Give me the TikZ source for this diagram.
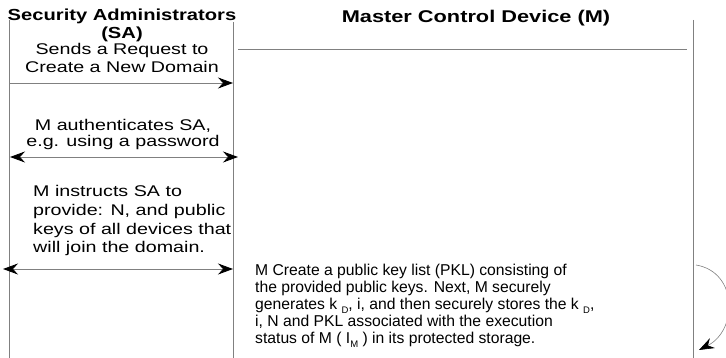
\documentclass[tikz,border=0pt]{standalone}
\usepackage{fontspec}
\setmainfont{Liberation Sans}
\newfontfamily\widefont[FakeStretch=1.27]{Liberation Sans}
\newfontfamily\widebold[FakeStretch=1.26]{Liberation Sans Bold}
\newfontfamily\widerbold[FakeStretch=1.28]{Liberation Sans Bold}
\usetikzlibrary{arrows.meta}
\newcommand{\lowsub}[1]{\raisebox{-0.55ex}{\fontsize{9.5}{9.5}\selectfont #1}}
\begin{document}
\begin{tikzpicture}[x=1pt,y=-1pt,
  lifeline/.style={draw=black!50, line width=0.9pt},
  msg/.style={draw=black!50, line width=0.8pt},
  tip/.tip={Stealth[length=15pt,width=11pt,inset=5pt,black]},
  header/.style={inner sep=0pt, anchor=base},
  satext/.style={inner sep=0pt, anchor=base, align=center,
    font=\widefont\fontsize{15.5}{18}\selectfont},
  mtext/.style={inner sep=0pt, anchor=base west, align=left,
    font=\fontsize{15.7}{17}\selectfont}]
  \useasboundingbox (0,0) rectangle (726,358);

  % column headers
  \node[header, font=\widebold\fontsize{16}{16}\selectfont] (sahead) at (122,21) {Security Administrators};
  \node[header, font=\widebold\fontsize{16}{16}\selectfont] (saabbr) at (122,39) {(SA)};
  \node[header, font=\widerbold\fontsize{17}{17}\selectfont] (mhead) at (476,23) {Master Control Device (M)};

  % lifelines
  \coordinate (saL) at (9.5,20);   \coordinate (saLb) at (9.5,358);
  \coordinate (saR) at (233,22);   \coordinate (saRb) at (233,358);
  \coordinate (mR)  at (693,20);   \coordinate (mRb)  at (693,358);
  \coordinate (mTa) at (238,49);   \coordinate (mTb)  at (687,49);
  \draw[lifeline] (saL) -- (saLb);
  \draw[lifeline] (saR) -- (saRb);
  \draw[lifeline] (mR) -- (mRb);
  \draw[lifeline] (mTa) -- (mTb);

  % message 1 (the base anchor sits on the last line)
  \node[satext] (req) at (122,73) {Sends a Request to\\Create a New Domain};
  \coordinate (r1a) at (9.5,83); \coordinate (r1b) at (233,83);
  \draw[msg, -tip] (r1a) -- (r1b);

  % message 2
  \node[satext, font=\widefont\fontsize{15.5}{16.5}\selectfont] (auth) at (123,147) {M authenticates SA,\\e.g. using a password};
  \coordinate (r2a) at (10,157); \coordinate (r2b) at (238,157);
  \draw[msg, tip-tip] (r2a) -- (r2b);

  % message 3
  \node[satext, anchor=base west, align=left, font=\widefont\fontsize{15.5}{18.7}\selectfont] (instr) at (33,253) {M instructs SA to\\provide: N, and public\\keys of all devices that\\will join the domain.};
  \coordinate (r3a) at (3,269); \coordinate (r3b) at (233,269);
  \draw[msg, tip-tip] (r3a) -- (r3b);

  % internal processing of M
  \node[mtext] (proc) at (255,343) {M Create a public key list (PKL) consisting of\\
    the provided public keys. Next, M securely\\
    generates k \lowsub{D}, i, and then securely stores the k \lowsub{D},\\
    i, N and PKL associated with the execution\\
    status of M ( I\lowsub{M} ) in its protected storage.};

  % self call on M
  \coordinate (s1) at (696,265); \coordinate (s2) at (699,350);
  \draw[msg, line width=0.6pt, -tip] (s1) .. controls (738,272) and (738,330) .. (s2);
\end{tikzpicture}
\end{document}
